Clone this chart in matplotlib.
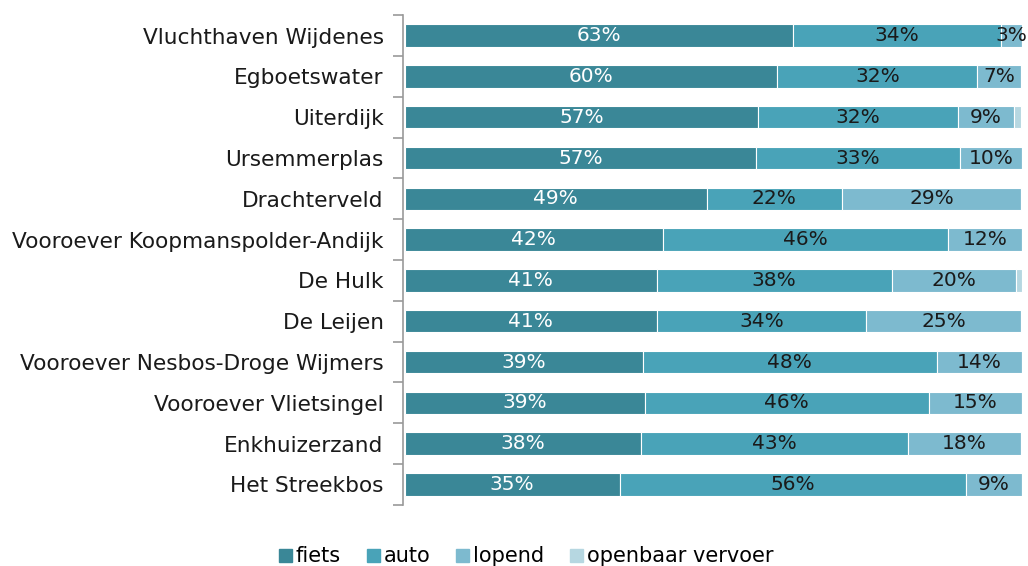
import numpy as np
import matplotlib.pyplot as plt
from matplotlib.patches import Patch

locaties = ['Vluchthaven Wijdenes', 'Egboetswater', 'Uiterdijk', 'Ursemmerplas',
            'Drachterveld', 'Vooroever Koopmanspolder-Andijk', 'De Hulk', 'De Leijen',
            'Vooroever Nesbos-Droge Wijmers', 'Vooroever Vlietsingel',
            'Enkhuizerzand', 'Het Streekbos']
fiets = [62.9, 60.4, 57.3, 56.9, 48.9, 41.8, 40.8, 40.8, 38.6, 38.9, 38.2, 34.8]
auto = [33.7, 32.4, 32.3, 33.1, 22.0, 46.2, 38.1, 34.0, 47.6, 46.0, 43.4, 56.1]
lopend = [3.4, 7.1, 9.2, 10.0, 29.0, 12.0, 20.1, 25.1, 13.9, 15.1, 18.2, 9.1]
ov = [0.0, 0.0, 1.0, 0.0, 0.0, 0.0, 1.0, 0.0, 0.0, 0.0, 0.0, 0.0]

reeksen = [('fiets', fiets, '#3a8797', 'white'),
           ('auto', auto, '#49a3b8', '#1a1a1a'),
           ('lopend', lopend, '#7dbacf', '#1a1a1a'),
           ('openbaar vervoer', ov, '#b6d7e1', '#1a1a1a')]

fig = plt.figure(figsize=(10.28, 5.66), dpi=100)
ax = fig.add_axes([0.392, 0.108, 0.602, 0.865])

y = np.arange(len(locaties))
links = np.zeros(len(locaties))
for naam, waarden, kleur, tekstkleur in reeksen:
    waarden = np.array(waarden)
    ax.barh(y, waarden, left=links, height=0.55, color=kleur,
            edgecolor='white', linewidth=0.8, label=naam)
    for yi, l, w in zip(y, links, waarden):
        if w >= 3:
            ax.text(l + w / 2, yi, f'{round(w):d}%', ha='center', va='center',
                    color=tekstkleur, fontsize=14.5)
    links = links + waarden

ax.set_xlim(-0.3, 100)
ax.set_ylim(len(locaties) - 0.5, -0.5)
ax.set_yticks(y)
ax.set_yticklabels(locaties, fontsize=15.6, color='#1a1a1a')
ax.tick_params(axis='y', which='major', length=0, pad=14)
ax.set_yticks(np.arange(-0.5, len(locaties)), minor=True)
ax.tick_params(axis='y', which='minor', length=7, color='#999999', width=1.2)
ax.set_xticks([])
for s in ['top', 'right', 'bottom']:
    ax.spines[s].set_visible(False)
ax.spines['left'].set_color('#999999')
ax.spines['left'].set_linewidth(1.2)

handles = [Patch(color=k) for _, _, k, _ in reeksen]
namen = [n for n, _, _, _ in reeksen]
fig.legend(handles, namen, loc='lower center', bbox_to_anchor=(0.512, -0.034),
           ncol=4, frameon=False, fontsize=15, handlelength=0.6,
           handleheight=0.6, handletextpad=0.2, columnspacing=1.25)

fig.savefig('out.png', dpi=100)
